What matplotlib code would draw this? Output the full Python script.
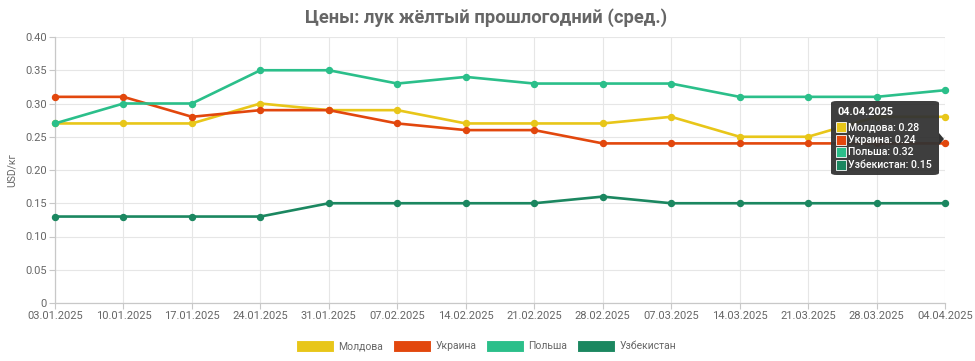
import matplotlib.pyplot as plt
from matplotlib.patches import FancyBboxPatch, Patch, Rectangle, Polygon

plt.rcParams["font.family"] = ["Roboto", "DejaVu Sans"]

# data
dates = ["03.01.2025", "10.01.2025", "17.01.2025", "24.01.2025", "31.01.2025",
         "07.02.2025", "14.02.2025", "21.02.2025", "28.02.2025", "07.03.2025",
         "14.03.2025", "21.03.2025", "28.03.2025", "04.04.2025"]
moldova = [0.27, 0.27, 0.27, 0.30, 0.29, 0.29, 0.27, 0.27, 0.27, 0.28, 0.25, 0.25, 0.28, 0.28]
ukraine = [0.31, 0.31, 0.28, 0.29, 0.29, 0.27, 0.26, 0.26, 0.24, 0.24, 0.24, 0.24, 0.24, 0.24]
poland = [0.27, 0.30, 0.30, 0.35, 0.35, 0.33, 0.34, 0.33, 0.33, 0.33, 0.31, 0.31, 0.31, 0.32]
uzbekistan = [0.13, 0.13, 0.13, 0.13, 0.15, 0.15, 0.15, 0.15, 0.16, 0.15, 0.15, 0.15, 0.15, 0.15]
names = ["Молдова", "Украина", "Польша", "Узбекистан"]
colors = ["#E8C619", "#E2470D", "#2BBF8A", "#1B8760"]
y_ticks = [0, 0.05, 0.10, 0.15, 0.20, 0.25, 0.30, 0.35, 0.40]
y_labels = ["0", "0.05", "0.10", "0.15", "0.20", "0.25", "0.30", "0.35", "0.40"]

W, H = 975, 361
fig = plt.figure(figsize=(W / 100, H / 100), dpi=100)
ax = fig.add_axes([55 / W, 1 - 303 / H, 890 / W, 266 / H])

x = list(range(len(dates)))
series = [moldova, ukraine, poland, uzbekistan]
for vals, c in zip(series, colors):
    ax.plot(x, vals, color=c, linewidth=1.9, marker="o", markersize=4.3,
            zorder=3, clip_on=False)

ax.set_xlim(0, len(dates) - 1)
ax.set_ylim(0, 0.40)
ax.set_xticks(x)
ax.set_xticklabels(dates)
ax.set_yticks(y_ticks)
ax.set_yticklabels(y_labels)
ax.tick_params(axis="both", colors="#c8c8c8", labelcolor="#666666",
               labelsize=8, length=4, width=0.8, pad=2)
ax.grid(True, color="#e6e6e6", linewidth=0.8)
ax.set_axisbelow(True)
for side in ["top", "right"]:
    ax.spines[side].set_visible(False)
for side in ["left", "bottom"]:
    ax.spines[side].set_color("#c8c8c8")
    ax.spines[side].set_linewidth(0.9)
ax.set_ylabel("USD/кг", color="#666666", fontsize=7.5, labelpad=6)

fig.text(486 / W, 1 - 18 / H, "Цены: лук жёлтый прошлогодний (сред.)",
         ha="center", va="center", fontsize=13.2, fontweight="bold", color="#666666")

# legend
handles = [Patch(facecolor=c, edgecolor="white", linewidth=0.8) for c in colors]
fig.legend(handles, names, loc="center", bbox_to_anchor=(486 / W, 1 - 346 / H),
           ncol=4, frameon=False, fontsize=7.5, labelcolor="#666666",
           handlelength=3.65, handleheight=1.3, handletextpad=0.45,
           columnspacing=0.9)

# tooltip at 04.04.2025
tx0, ty0, tw, th = 831, 101, 108, 74
box = FancyBboxPatch((tx0 / W, 1 - (ty0 + th) / H), tw / W, th / H,
                     boxstyle="round,pad=0,rounding_size=0.006",
                     transform=fig.transFigure, facecolor="#333333",
                     edgecolor="none", alpha=0.95, zorder=10)
fig.patches.append(box)
arrow = Polygon([((tx0 + tw) / W, 1 - 133 / H), (944 / W, 1 - 139 / H),
                 ((tx0 + tw) / W, 1 - 145 / H)], closed=True,
                transform=fig.transFigure, facecolor="#333333",
                edgecolor="none", zorder=10)
fig.patches.append(arrow)
fig.text(837 / W, 1 - 112 / H, dates[-1], color="white", fontsize=7.8,
         fontweight="bold", va="center", ha="left", zorder=11)
for i, (n, vals, c) in enumerate(zip(names, series, colors)):
    yy = 127 + i * 12.7
    sq = Rectangle((836 / W, 1 - (yy + 5) / H), 10 / W, 10 / H,
                   transform=fig.transFigure, facecolor=c, edgecolor="white",
                   linewidth=0.6, zorder=11)
    fig.patches.append(sq)
    fig.text(848 / W, 1 - yy / H, f"{n}: {vals[-1]:.2f}", color="white",
             fontsize=7.6, fontweight="medium", va="center", ha="left", zorder=11)

fig.savefig("out.png", dpi=100)
